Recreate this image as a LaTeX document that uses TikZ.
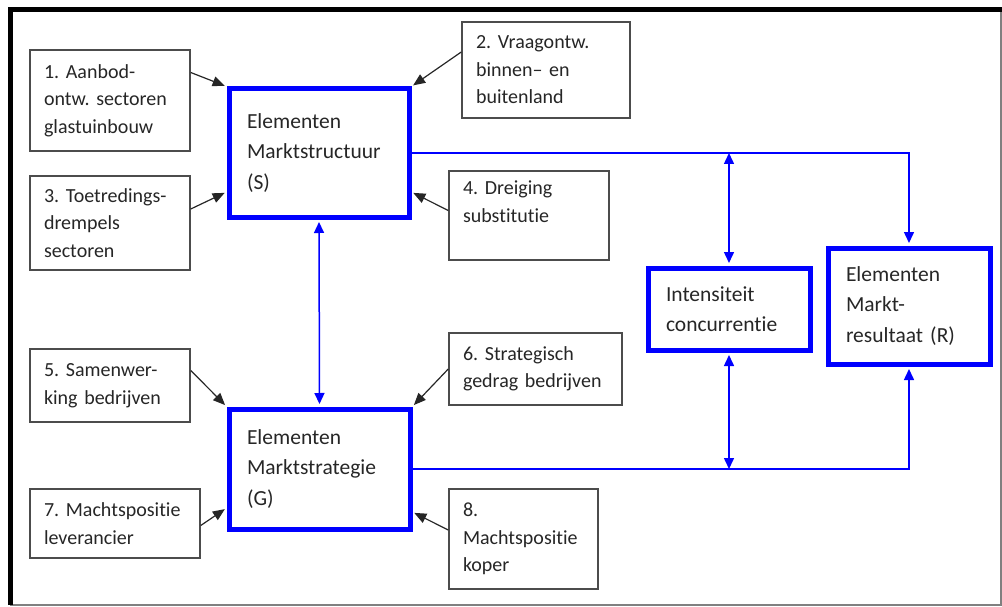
\documentclass[tikz,border=0pt]{standalone}
\usepackage{fontspec}
\setmainfont{Carlito}[Ligatures=NoCommon]
\usetikzlibrary{arrows.meta}
\hyphenpenalty=10000
\frenchspacing

\begin{document}
\begin{tikzpicture}[
  x=1pt, y=-1pt,
  factor/.style={rectangle, draw=black!70, line width=1.5pt, align=left,
    inner xsep=14pt, inner ysep=0pt, text=black!85,
    font=\fontsize{20}{27.5}\selectfont},
  element/.style={rectangle, draw=blue, line width=5pt, align=left,
    inner xsep=18pt, inner ysep=0pt, text=black!85,
    font=\fontsize{21.5}{30.5}\selectfont},
  push/.style={line width=1.2pt, black!85, shorten >=2pt,
    -{Triangle[length=12pt,width=10pt]}},
  link/.style={line width=1.5pt, blue, shorten >=2.5pt,
    -{Triangle[length=11pt,width=10pt]}},
  duallink/.style={line width=1.5pt, blue,
    {Triangle[length=11pt,width=10pt]}-{Triangle[length=11pt,width=10pt]}}
]
\useasboundingbox (0,0) rectangle (1002,607);

% ====== FRAME ======
\draw[line width=1.5pt, black!50] (10,605) -- (1001,605) -- (1001,10);
\draw[line width=5pt, black] (10,605) -- (10,10) -- (1002,10);

% ====== CORE ELEMENTS ======
\node[element, minimum width=180pt, minimum height=128pt, text width=144pt]
  (S) at (319,153) {Elementen\\Marktstructuur\\(S)};
\node[element, minimum width=181pt, minimum height=120pt, text width=145pt]
  (G) at (319.5,469) {Elementen\\Marktstrategie\\(G)};
\node[element, minimum width=162pt, minimum height=82pt, text width=126pt]
  (I) at (729,309) {Intensiteit\\concurrentie};
\node[element, minimum width=162pt, minimum height=116pt, text width=126pt]
  (R) at (909,306) {Elementen\\Markt-\\resultaat (R)};

% ====== FACTORS ======
\node[factor, minimum width=160pt, minimum height=101pt, text width=132pt]
  (aanbod) at (110,100.5) {1. Aanbod-\\ontw. sectoren\\glastuinbouw};
\node[factor, minimum width=168pt, minimum height=96pt, text width=140pt]
  (vraag) at (546,70) {2. Vraagontw.\\binnen– en\\buitenland};
\node[factor, minimum width=160pt, minimum height=94pt, text width=132pt]
  (drempel) at (110,223) {3. Toetredings-\\drempels\\sectoren};
\node[factor, minimum width=160pt, minimum height=89pt, text width=132pt]
  (substitutie) at (529,215.5) {4. Dreiging\\substitutie\\\mbox{}};
\node[factor, minimum width=160pt, minimum height=73pt, text width=132pt]
  (samenwerking) at (110,385.5) {5. Samenwer-\\king bedrijven};
\node[factor, minimum width=173pt, minimum height=72pt, text width=145pt]
  (gedrag) at (535.5,369) {6. Strategisch\\gedrag bedrijven};
\node[factor, minimum width=170pt, minimum height=69pt, text width=142pt]
  (leverancier) at (115,523.5) {7. Machtspositie\\leverancier};
\node[factor, minimum width=149pt, minimum height=100pt, text width=121pt]
  (koper) at (523.5,539) {8.\\Machtspositie\\koper};

% ====== FACTOR ARROWS ======
\draw[push] ([yshift=28pt]aanbod.east) -- (S.north west);
\draw[push] ([yshift=18pt]vraag.west) -- (S.north east);
\draw[push] ([yshift=14pt]drempel.east) -- ([yshift=-39pt]S.west);
\draw[push] ([yshift=5pt]substitutie.west) -- ([yshift=-39pt]S.east);
\draw[push] ([yshift=15pt]samenwerking.east) -- (G.north west);
\draw[push] (gedrag.west) -- (G.north east);
\draw[push] ([yshift=-2pt]leverancier.east) -- ([yshift=-39pt]G.west);
\draw[push] ([yshift=9pt]koper.west) -- ([yshift=-43pt]G.east);

% ====== BLUE LINKS ======
\draw[link] (S.east) -| (R.north);
\draw[link] (G.east) -| (R.south);
\draw[duallink, shorten <=2.5pt, shorten >=2.5pt] (S.south) -- (G.north);
\draw[duallink, shorten <=2.5pt] (I.north) -- (I.north |- S.east);
\draw[duallink, shorten <=2.5pt] (I.south) -- (I.south |- G.east);

\end{tikzpicture}
\end{document}
